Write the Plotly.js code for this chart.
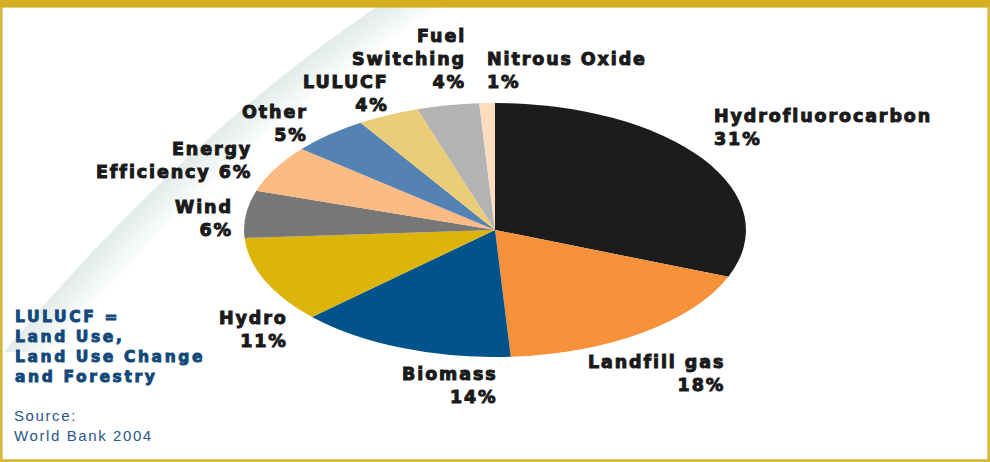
<!DOCTYPE html>
<html>
<head>
<meta charset="utf-8">
<script src="https://cdn.plot.ly/plotly-3.0.1.min.js"></script>
<style>
  html, body { margin: 0; padding: 0; background: #ffffff; }
  #wrap { position: relative; width: 990px; height: 462px; overflow: hidden; }
  #base { position: absolute; left: 0; top: 0; width: 990px; height: 462px; }
  #pie { position: absolute; left: 368px; top: 103px; width: 254px; height: 254px;
         transform: scaleX(1.976); transform-origin: 50% 50%; }
  text.annotation-text[style*="font-size: 17.5px"] { letter-spacing: 1.9px; stroke: #1a1a1a; stroke-width: 1px; }
  text.annotation-text[style*="font-size: 15.5px"] { letter-spacing: 2.6px; stroke: #12487a; stroke-width: 0.9px; }
  text.annotation-text[style*="font-size: 15px"] { letter-spacing: 1.6px; }
</style>
</head>
<body>
<div id="wrap">
  <div id="base"></div>
  <div id="pie"></div>
</div>
<script>
// ---- data ----
const categories = ['Hydrofluorocarbon', 'Landfill gas', 'Biomass', 'Hydro', 'Wind',
                    'Energy Efficiency', 'Other', 'LULUCF', 'Fuel Switching', 'Nitrous Oxide'];
const shares = [31, 18, 14, 11, 6, 6, 5, 4, 4, 1];
const displayNames = ['Hydrofluorocarbon', 'Landfill gas', 'Biomass', 'Hydro', 'Wind',
                      'Energy<br>Efficiency', 'Other', 'LULUCF', 'Fuel<br>Switching', 'Nitrous Oxide'];
const pctSeparator = ['<br>', '<br>', '<br>', '<br>', '<br>', ' ', '<br>', '<br>', '<br>', '<br>'];
const noteText = 'LULUCF =<br>Land Use,<br>Land Use Change<br>and Forestry';
const sourceText = 'Source:<br>World Bank 2004';

// ---- styles / layout ----
const sliceColors = ['#1c1c1c', '#f7923a', '#02528c', '#dcb40a', '#777777',
                     '#fbbb83', '#5482b3', '#ebcd78', '#b3b3b3', '#fddcc0'];
// label anchor positions (pixel space of the 990x462 canvas)
const labelPos = [
  {x: 712, y: 127, xa: 'left'},
  {x: 727, y: 373, xa: 'right'},
  {x: 500, y: 385, xa: 'right'},
  {x: 290, y: 329, xa: 'right'},
  {x: 235, y: 218, xa: 'right'},
  {x: 254, y: 160, xa: 'right'},
  {x: 310, y: 123, xa: 'right'},
  {x: 391, y: 93,  xa: 'right'},
  {x: 468, y: 59,  xa: 'right'},
  {x: 485, y: 70,  xa: 'left'}
];

const labelFont = {family: 'DejaVu Sans, Verdana, sans-serif', size: 17.5, color: '#1a1a1a', weight: 700};

const annotations = categories.map((c, i) => ({
  x: labelPos[i].x, y: labelPos[i].y, xref: 'x', yref: 'y',
  text: displayNames[i] + pctSeparator[i] + shares[i] + '%',
  showarrow: false, xanchor: labelPos[i].xa, yanchor: 'middle', align: labelPos[i].xa,
  font: labelFont
}));
annotations.push({
  x: 13, y: 347, xref: 'x', yref: 'y', text: noteText, showarrow: false,
  xanchor: 'left', yanchor: 'middle', align: 'left',
  font: {family: 'DejaVu Sans, Verdana, sans-serif', size: 15.5, color: '#12487a', weight: 700}
});
annotations.push({
  x: 12, y: 425, xref: 'x', yref: 'y', text: sourceText, showarrow: false,
  xanchor: 'left', yanchor: 'middle', align: 'left',
  font: {family: 'Liberation Sans, Arial, sans-serif', size: 15, color: '#2b5788'}
});

// swoosh (soft grey page-curl band) built from layered translucent strips
const shapes = [];
for (let k = 1; k <= 10; k++) {
  const w = k * 5;
  shapes.push({
    type: 'path', xref: 'x', yref: 'y', layer: 'below',
    path: `M 378,6 Q 180,140 4,352 L ${4 + w},352 Q ${180 + w},140 ${378 + w * 1.3},6 Z`,
    fillcolor: 'rgba(192,198,214,0.045)', line: {width: 0}
  });
}
// gold frame
shapes.push({type: 'rect', xref: 'x', yref: 'y', x0: 1.3, x1: 988.7, y0: 6, y1: 460.6,
             line: {color: '#d9b53c', width: 2.6}, fillcolor: 'rgba(0,0,0,0)', layer: 'above'});
shapes.push({type: 'rect', xref: 'x', yref: 'y', x0: 0, x1: 990, y0: 0, y1: 7.5,
             line: {width: 0}, fillcolor: '#d5af22', layer: 'above'});

Plotly.newPlot('base', [{x: [], y: [], type: 'scatter', hoverinfo: 'skip', showlegend: false}], {
  width: 990, height: 462,
  margin: {l: 0, r: 0, t: 0, b: 0, pad: 0},
  paper_bgcolor: '#ffffff', plot_bgcolor: '#ffffff',
  xaxis: {range: [0, 990], visible: false, fixedrange: true},
  yaxis: {range: [462, 0], visible: false, fixedrange: true},
  showlegend: false,
  shapes: shapes,
  annotations: annotations
}, {staticPlot: true, displayModeBar: false});

Plotly.newPlot('pie', [{
  type: 'pie',
  labels: categories,
  values: shares,
  sort: false,
  direction: 'clockwise',
  rotation: 0,
  textinfo: 'none',
  hoverinfo: 'skip',
  marker: {colors: sliceColors, line: {width: 0}},
  showlegend: false
}], {
  width: 254, height: 254,
  margin: {l: 0, r: 0, t: 0, b: 0, pad: 0},
  paper_bgcolor: 'rgba(0,0,0,0)', plot_bgcolor: 'rgba(0,0,0,0)',
  showlegend: false
}, {staticPlot: true, displayModeBar: false});
</script>
</body>
</html>
